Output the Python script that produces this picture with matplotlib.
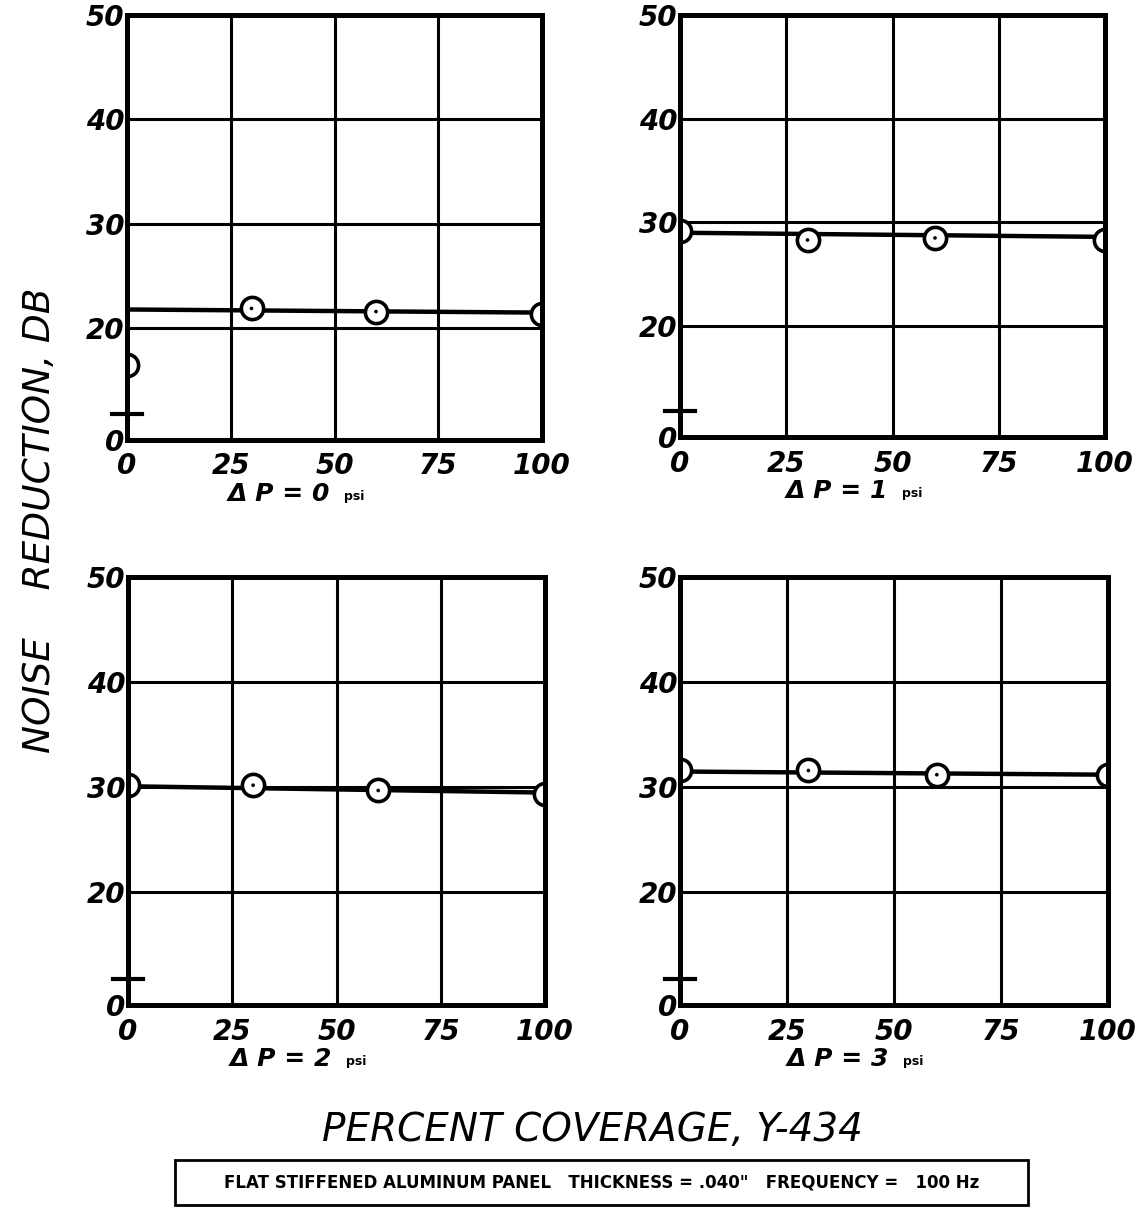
import matplotlib
matplotlib.use("Agg")
import matplotlib.pyplot as plt
from matplotlib.patches import Rectangle

# ---- data ----
coverage = [0, 30, 60, 100]                      # percent coverage
pressures = ["0", "1", "2", "3"]                 # delta P, psi
nr_p0 = [16.5, 21.9, 21.6, 21.4]                 # noise reduction, dB
nr_p1 = [29.2, 28.3, 28.5, 28.3]
nr_p2 = [30.2, 30.2, 29.7, 29.4]
nr_p3 = [31.6, 31.6, 31.2, 31.2]
fit_x = [0, 100]
fit_p0 = [21.8, 21.5]
fit_p1 = [29.0, 28.6]
fit_p2 = [30.1, 29.5]
fit_p3 = [31.5, 31.2]
x_ticks = [0, 25, 50, 75, 100]
x_ticklabels = ["0", "25", "50", "75", "100"]
y_ticks = [9.3, 20, 30, 40, 50]                  # 9.3 is the broken-axis position of "0"
y_ticklabels = ["0", "20", "30", "40", "50"]
break_y = 11.8

series = [nr_p0, nr_p1, nr_p2, nr_p3]
fits = [fit_p0, fit_p1, fit_p2, fit_p3]

W, H = 1135, 1217
fig = plt.figure(figsize=(W / 100, H / 100), dpi=100)
fig.patch.set_facecolor("white")

# pixel boxes: left, right, top, bottom
boxes = [(127, 542, 15, 440), (680, 1105, 15, 437),
         (128, 545, 577, 1005), (680, 1108, 577, 1005)]

tick_font = dict(fontsize=20, fontstyle="italic", fontweight="bold", family="DejaVu Sans")

for i, (l, r, t, b) in enumerate(boxes):
    ax = fig.add_axes([l / W, (H - b) / H, (r - l) / W, (b - t) / H])
    ax.set_xlim(0, 100)
    ax.set_ylim(9.3, 50)
    for s in ax.spines.values():
        s.set_linewidth(3.6)
        s.set_color("black")
        s.set_zorder(6)
    for gx in x_ticks[1:-1]:
        ax.axvline(gx, color="black", lw=2.2, zorder=1)
    for gy in y_ticks[1:-1]:
        ax.axhline(gy, color="black", lw=2.2, zorder=1)
    ax.plot(fit_x, fits[i], color="black", lw=3.2, zorder=2,
            solid_capstyle="butt")
    ax.scatter(coverage, series[i], s=256, facecolors="white",
               edgecolors="black", linewidths=2.6, zorder=3, clip_on=True)
    ax.scatter(coverage, series[i], s=7, facecolors="black",
               edgecolors="none", zorder=4, clip_on=True)
    ax.set_xlim(0, 100)
    ax.set_ylim(9.3, 50)
    ax.set_xticks(x_ticks)
    ax.set_xticklabels(x_ticklabels, **tick_font)
    ax.set_yticks(y_ticks)
    ax.set_yticklabels(y_ticklabels, **tick_font)
    ax.tick_params(axis="both", length=0)
    ax.tick_params(axis="x", pad=9)
    ax.tick_params(axis="y", pad=2)
    # axis break mark
    ax.plot([-3.5, 3.5], [break_y, break_y], color="black", lw=3,
            clip_on=False, zorder=7)
    # subtitle
    cx = (l + r) / 2 / W
    ty = (H - b - 54) / H
    fig.text(cx - 0.004, ty, "\u0394 P = " + pressures[i], ha="right", va="center",
             fontsize=18, fontstyle="italic", fontweight="bold")
    fig.text(cx + 0.008, ty - 0.002, "psi", ha="left", va="center",
             fontsize=9, fontweight="bold")

fig.text(40 / W, 1 - 520 / H, "NOISE    REDUCTION, DB", rotation=90,
         ha="center", va="center", fontsize=27, fontstyle="italic")
fig.text(592 / W, 1 - 1130 / H, "PERCENT COVERAGE, Y-434",
         ha="center", va="center", fontsize=28, fontstyle="italic")

# caption box
fig.patches.append(Rectangle((175 / W, 1 - 1205 / H), (1028 - 175) / W, 45 / H,
                             transform=fig.transFigure, fill=False,
                             edgecolor="black", lw=2))
fig.text(602 / W, 1 - 1183 / H,
         "FLAT STIFFENED ALUMINUM PANEL   THICKNESS = .040\"   FREQUENCY =   100 Hz",
         ha="center", va="center", fontsize=12, fontweight="bold")

fig.savefig("out.png", dpi=100, facecolor="white")
